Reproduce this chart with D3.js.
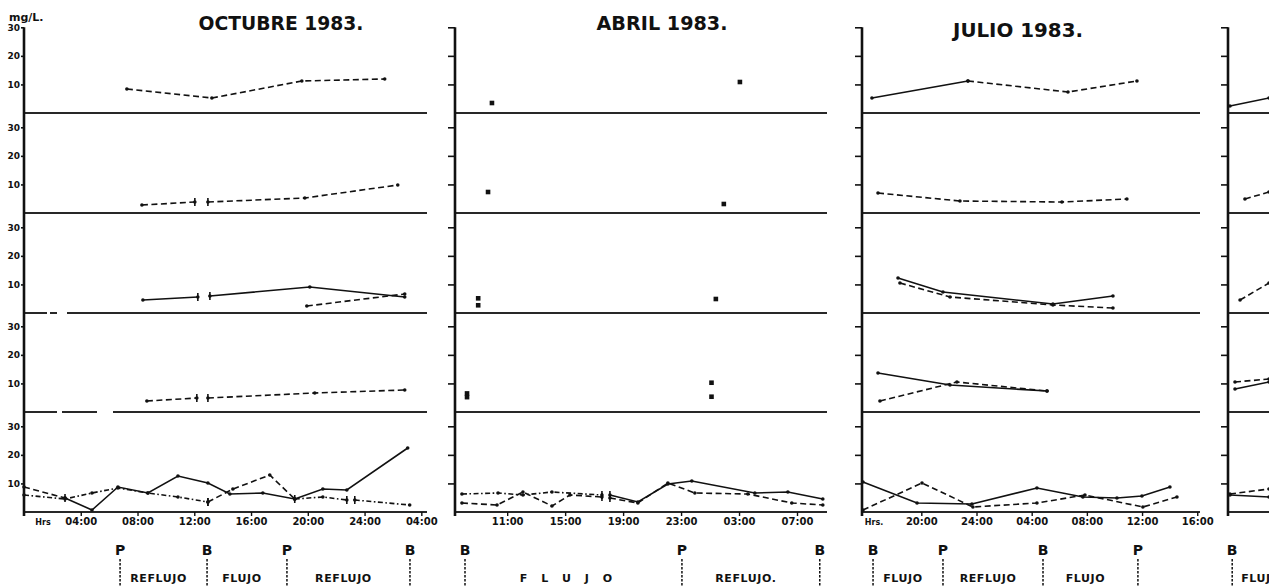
<!DOCTYPE html>
<html>
<head>
<meta charset="utf-8">
<script src="https://cdn.jsdelivr.net/npm/d3@7"></script>
<style>
  body { margin: 0; background: #fff; }
  svg { display: block; }
  text { font-family: "DejaVu Sans", sans-serif; fill: #111; }
</style>
</head>
<body>
<svg id="chart" width="1269" height="586"></svg>
<script>
// ---- Concentrations (mg/L) per station band, as [hour, value]; null = break in the record ----

// OCTUBRE 1983 (hours from 00:00 of the first day)
const octB1Dash = [[7.25, 8.4], [13.24, 5.25], [19.58, 11.2], [25.42, 11.9]];
const octB2Dash = [[8.31, 2.8], [12.04, 3.85], null, [12.96, 3.85], [19.79, 5.25], [26.34, 9.8]];
const octB3Solid = [[8.38, 4.55], [12.25, 5.6], null, [13.1, 5.95], [20.14, 9.1], [26.83, 5.6]];
const octB3Dash = [[19.93, 2.45], [26.83, 6.65]];
const octB4Dash = [[8.66, 3.85], [12.18, 4.9], null, [12.96, 4.9], [20.49, 6.65], [26.83, 7.7]];
const octB5Solid = [[2.89, 4.9], [4.79, 0.7], [6.62, 8.75], [8.73, 6.65], [10.85, 12.6], [12.96, 10.15],
                    [14.51, 6.3], [16.83, 6.65], [19.08, 4.55], [21.06, 8.05], [22.75, 7.7], [27.04, 22.4]];
const octB5Dash = [[0, 8.75], [2.89, 4.9], null, [12.96, 3.5], [14.72, 8.05], [17.32, 12.95], [19.08, 4.55]];
const octB5DashDot = [[0, 5.95], [2.89, 4.55], [4.79, 6.65], [6.62, 8.4], [8.73, 6.65], [10.85, 5.25], [12.96, 3.5],
                      null, [19.08, 4.55], [21.06, 5.25], [22.75, 4.2], null, [23.31, 4.2], [27.18, 2.45]];

// ABRIL 1983
const abrB1Pts = [[9.95, 3.5], [27.06, 10.85]];
const abrB2Pts = [[9.68, 7.35], [25.95, 3.15]];
const abrB3Pts = [[9.0, 5.14], [9.0, 2.7], [25.4, 4.9]];
const abrB4Pts = [[8.23, 6.5], [8.23, 5.2], [25.1, 10.25], [25.1, 5.35]];
const abrB5DashDot = [[7.88, 6.3], [10.37, 6.65], [12.09, 5.95], [14.09, 7.0], [17.54, 5.95], null];
const abrB5Solid = [null, [18.09, 5.95], [20.02, 3.5], [22.09, 9.8], [23.74, 10.85], [28.09, 6.65], [30.37, 7.0], [32.78, 4.55]];
const abrB5Dash = [[7.88, 3.15], [10.3, 2.45], [12.09, 7.0], [14.09, 2.1], [15.33, 5.95], [17.54, 5.25], null,
                   [18.09, 4.9], [20.02, 3.15], [22.09, 10.15], [23.95, 6.65], [27.61, 6.3], [30.64, 3.15], [32.78, 2.45]];

// JULIO 1983
const julB1Solid = [[16.42, 5.25], [23.38, 11.2]];
const julB1Dash = [[23.38, 11.2], [30.63, 7.35], [35.63, 11.2]];
const julB2Dash = [[16.86, 7.0], [22.8, 4.2], [30.19, 3.85], [34.9, 4.9]];
const julB3Solid = [[18.31, 12.25], [21.57, 7.35], [29.54, 3.15], [33.89, 5.95]];
const julB3Dash = [[18.45, 10.5], [22.08, 5.6], [29.54, 2.8], [33.89, 1.75]];
const julB4Solid = [[16.86, 13.65], [22.08, 9.45], [29.11, 7.35]];
const julB4Dash = [[17.0, 3.85], [22.58, 10.5], [29.11, 7.35]];
const julB5Solid = [[15.77, 10.5], [19.69, 3.15], [23.67, 2.8], [28.38, 8.4], [31.71, 5.25], [34.18, 4.9], [35.99, 5.6], [38.02, 8.75]];
const julB5Dash = [[15.77, 0.7], [20.05, 10.15], [23.74, 1.75], [28.38, 3.15], [31.86, 5.95], [36.06, 1.75], [38.53, 5.25]];

// Following campaign (only its start fits on the sheet)
const nxtB1Solid = [[0.14, 2.45], [2.93, 5.25]];
const nxtB2Dash = [[1.21, 4.9], [2.93, 7.35]];
const nxtB3Dash = [[0.86, 4.55], [2.93, 10.5]];
const nxtB4Dash = [[0.5, 10.5], [2.93, 11.55]];
const nxtB4Solid = [[0.5, 8.05], [2.93, 10.5]];
const nxtB5Dash = [[0.14, 6.3], [2.93, 8.05]];
const nxtB5Solid = [[0.14, 5.95], [2.93, 5.25]];

// ---- Axis ticks ----
const yTickValues = [10, 20, 30];
const yTickLabels = ["10", "20", "30"];
const octTickHours = [4, 8, 12, 16, 20, 24, 28];
const octTickLabels = ["04:00", "08:00", "12:00", "16:00", "20:00", "24:00", "04:00"];
const abrTickHours = [11, 15, 19, 23, 27, 31];
const abrTickLabels = ["11:00", "15:00", "19:00", "23:00", "03:00", "07:00"];
const julTickHours = [20, 24, 28, 32, 36, 40];
const julTickLabels = ["20:00", "24:00", "04:00", "08:00", "12:00", "16:00"];

// ---- Tides: P = pleamar, B = bajamar, and the tidal phase between them ----
const octTides = [["P", 6.77], ["B", 12.9], ["P", 18.53], ["B", 27.2]];
const octPhases = ["REFLUJO", "FLUJO", "REFLUJO"];
const abrTides = [["B", 8.09], ["P", 23.06], ["B", 32.57]];
const abrPhases = ["F L U J O", "REFLUJO."];
const julTides = [["B", 16.5], ["P", 21.57], ["B", 28.82], ["P", 35.7]];
const julPhases = ["FLUJO", "REFLUJO", "FLUJO"];
const nxtTides = [["B", 0.3]];
const nxtPhases = ["FLUJO"];

const titles = ["OCTUBRE 1983.", "ABRIL 1983.", "JULIO 1983.", ""];

// ---- Layout ----
const svg = d3.select("#chart");
const bandBottoms = d3.range(5).map(i => Math.round(113 + i * 99.75));
const bandH = 100;
const yScales = bandBottoms.map(b => d3.scaleLinear().domain([0, 35]).range([b, b - bandH]));
const axisTop = yScales[0](30);
const xAxisY = bandBottoms[4];

const panels = [
  { x: d3.scaleLinear().domain([0, 28.4]).range([24, 427]), title: titles[0], titleX: 281, titleY: 30, titleW: 165,
    ticks: octTickHours, tickLabels: octTickLabels, hrs: "Hrs", hrsDx: 19, yLabels: true,
    tides: octTides, phases: octPhases,
    series: [
      { band: 0, data: octB1Dash, style: "dash" },
      { band: 1, data: octB2Dash, style: "dash" },
      { band: 2, data: octB3Solid, style: "solid" },
      { band: 2, data: octB3Dash, style: "dash" },
      { band: 3, data: octB4Dash, style: "dash" },
      { band: 4, data: octB5Solid, style: "solid" },
      { band: 4, data: octB5Dash, style: "dash" },
      { band: 4, data: octB5DashDot, style: "dashdot" }
    ],
    // worn spots in the ruled separators (pixel offsets from the axis)
    worn: [[2, 23, 26], [2, 33, 43], [3, 33, 38], [3, 73, 89]] },
  { x: d3.scaleLinear().domain([7.4, 33.07]).range([455, 827]), title: titles[1], titleX: 662, titleY: 30, titleW: 131,
    ticks: abrTickHours, tickLabels: abrTickLabels, hrs: null, yLabels: false,
    tides: abrTides, phases: abrPhases,
    series: [
      { band: 0, data: abrB1Pts, style: "points" },
      { band: 1, data: abrB2Pts, style: "points" },
      { band: 2, data: abrB3Pts, style: "points" },
      { band: 3, data: abrB4Pts, style: "points" },
      { band: 4, data: abrB5DashDot, style: "dashdot" },
      { band: 4, data: abrB5Solid, style: "solid" },
      { band: 4, data: abrB5Dash, style: "dash" }
    ], worn: [] },
  { x: d3.scaleLinear().domain([15.7, 40.2]).range([862, 1200]), title: titles[2], titleX: 1018, titleY: 37, titleW: 130,
    ticks: julTickHours, tickLabels: julTickLabels, hrs: "Hrs.", hrsDx: 12, yLabels: false,
    tides: julTides, phases: julPhases,
    series: [
      { band: 0, data: julB1Solid, style: "solid" },
      { band: 0, data: julB1Dash, style: "dash" },
      { band: 1, data: julB2Dash, style: "dash" },
      { band: 2, data: julB3Solid, style: "solid" },
      { band: 2, data: julB3Dash, style: "dash" },
      { band: 3, data: julB4Solid, style: "solid" },
      { band: 3, data: julB4Dash, style: "dash" },
      { band: 4, data: julB5Solid, style: "solid" },
      { band: 4, data: julB5Dash, style: "dash" }
    ], worn: [] },
  { x: d3.scaleLinear().domain([0, 3]).range([1228, 1270]), title: titles[3],
    ticks: [], tickLabels: [], hrs: null, yLabels: false,
    tides: nxtTides, phases: nxtPhases,
    series: [
      { band: 0, data: nxtB1Solid, style: "solid" },
      { band: 1, data: nxtB2Dash, style: "dash" },
      { band: 2, data: nxtB3Dash, style: "dash" },
      { band: 3, data: nxtB4Dash, style: "dash" },
      { band: 3, data: nxtB4Solid, style: "solid" },
      { band: 4, data: nxtB5Dash, style: "dash" },
      { band: 4, data: nxtB5Solid, style: "solid" }
    ], worn: [] }
];

const dashes = { solid: null, dash: "6,3.5", dashdot: "5,2.5,1.6,2.5" };

svg.append("text").attr("x", 9).attr("y", 21)
  .attr("font-size", 11).attr("font-weight", "bold").text("mg/L.");

panels.forEach(p => {
  const [x0, x1] = p.x.range();
  const xr = Math.min(x1, 1269);
  const g = svg.append("g");

  // title
  if (p.title) {
    g.append("text").attr("x", p.titleX).attr("y", p.titleY)
      .attr("text-anchor", "middle").attr("font-size", 19).attr("font-weight", "bold")
      .attr("textLength", p.titleW).attr("lengthAdjust", "spacingAndGlyphs")
      .text(p.title);
  }

  // band separators (the last one is the time axis)
  g.selectAll(null).data(bandBottoms).join("rect")
    .attr("x", x0).attr("y", b => b - 0.9).attr("width", xr - x0).attr("height", 1.8)
    .attr("fill", "#111");
  // worn spots in the ruling
  g.selectAll(null).data(p.worn).join("rect")
    .attr("x", d => x0 + d[1]).attr("y", d => bandBottoms[d[0]] - 2)
    .attr("width", d => d[2] - d[1]).attr("height", 4).attr("fill", "#fff");

  // y ticks in every band
  yScales.forEach(y => {
    const ax = g.append("g").attr("transform", `translate(${x0},0)`)
      .call(d3.axisLeft(y).tickValues(yTickValues).tickSize(p.yLabels ? 3 : 7)
        .tickPadding(1).tickFormat((d, i) => p.yLabels ? yTickLabels[i] : ""));
    ax.select(".domain").remove();
    ax.selectAll("line").attr("stroke", "#111").attr("stroke-width", 1.6);
    ax.selectAll("text").attr("font-size", 9).attr("font-weight", "bold")
      .attr("font-family", "DejaVu Sans").attr("fill", "#111");
  });

  // vertical axis
  g.append("line").attr("x1", x0).attr("x2", x0).attr("y1", axisTop).attr("y2", xAxisY + 4)
    .attr("stroke", "#111").attr("stroke-width", 2.6);

  // time axis ticks and labels
  if (p.ticks.length) {
    const ax = g.append("g").attr("transform", `translate(0,${xAxisY})`)
      .call(d3.axisBottom(p.x).tickValues(p.ticks).tickSize(4).tickPadding(2)
        .tickFormat((d, i) => p.tickLabels[i]));
    ax.select(".domain").remove();
    ax.selectAll("line").attr("stroke", "#111").attr("stroke-width", 1.4);
    ax.selectAll("text").attr("font-size", 10).attr("font-weight", "bold")
      .attr("font-family", "DejaVu Sans").attr("fill", "#111");
  }
  if (p.hrs) {
    g.append("text").attr("x", x0 + p.hrsDx).attr("y", xAxisY + 13)
      .attr("text-anchor", "middle").attr("font-size", 8).attr("font-weight", "bold").text(p.hrs);
  }

  // concentration series
  p.series.forEach(s => {
    const y = yScales[s.band];
    if (s.style !== "points") {
      const line = d3.line().defined(d => d !== null).x(d => p.x(d[0])).y(d => y(d[1]));
      g.append("path").attr("d", line(s.data)).attr("fill", "none")
        .attr("stroke", "#111").attr("stroke-width", 1.6)
        .attr("stroke-dasharray", dashes[s.style]);
    }
    const pts = s.data.filter(d => d !== null);
    if (s.style === "points") {
      g.selectAll(null).data(pts).join("rect")
        .attr("x", d => p.x(d[0]) - 2.3).attr("y", d => y(d[1]) - 2.3)
        .attr("width", 4.6).attr("height", 4.6).attr("fill", "#111");
    } else {
      g.selectAll(null).data(pts).join("circle")
        .attr("cx", d => p.x(d[0])).attr("cy", d => y(d[1])).attr("r", 1.8).attr("fill", "#111");
      // short bars where the record is interrupted
      const ends = s.data.filter((d, i) => d !== null && (s.data[i - 1] === null || s.data[i + 1] === null));
      g.selectAll(null).data(ends).join("line")
        .attr("x1", d => p.x(d[0])).attr("x2", d => p.x(d[0]))
        .attr("y1", d => y(d[1]) - 4).attr("y2", d => y(d[1]) + 4)
        .attr("stroke", "#111").attr("stroke-width", 1.6);
    }
  });

  // tide markers with dotted guides
  p.tides.forEach(([k, h]) => {
    const tx = p.x(h);
    g.append("text").attr("x", tx).attr("y", 555).attr("text-anchor", "middle")
      .attr("font-size", 14).attr("font-weight", "bold").text(k);
    g.append("line").attr("x1", tx).attr("x2", tx).attr("y1", 559).attr("y2", 586)
      .attr("stroke", "#111").attr("stroke-width", 1.5).attr("stroke-dasharray", "2.5,1.5");
  });

  // tidal phase names between markers
  p.phases.forEach((name, i) => {
    const a = p.x(p.tides[i][1]);
    const t = g.append("text").attr("y", 582).attr("font-size", 11).attr("font-weight", "bold");
    if (p.tides[i + 1]) {
      const b = p.x(p.tides[i + 1][1]);
      t.attr("x", (a + b) / 2 - 5).attr("text-anchor", "middle");
    } else {
      t.attr("x", a + 9).attr("text-anchor", "start");
    }
    t.attr("letter-spacing", name.includes(" ") ? 5 : 0.6).text(name);
  });
});
</script>
</body>
</html>
